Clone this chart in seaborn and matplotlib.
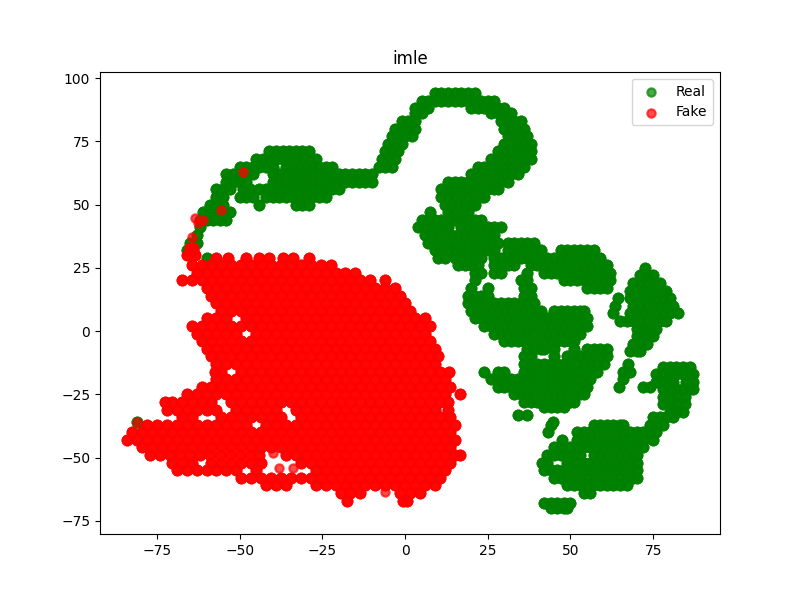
import numpy as np
import pandas as pd
import seaborn as sns
import matplotlib
matplotlib.use("Agg")
import matplotlib.pyplot as plt

# t-SNE points, one list of x values per height (y)
# --- Real ---
r94 = [9, 11, 13, 15, 17, 19, 21]
r91 = [5, 7, 9, 11, 13, 15, 17, 19, 21, 23, 25, 27]
r88 = [3, 5, 7, 20, 22, 24, 26, 28, 30]
r86 = [3, 5, 26, 28, 30, 32]
r83 = [-1, 1, 3, 29, 31, 33, 35]
r80 = [-3, -1, 1, 3, 30, 32, 34, 36]
r77 = [-4, -2, 0, 2, 31, 33, 35, 37]
r74 = [-5, -3, -1, 30, 32, 34, 36, 38]
r71 = [-41, -39, -37, -35, -33, -31, -29, -6, -4, -2, 28, 30, 32, 34, 36, 38]
r68 = [-45, -43, -41, -39, -37, -35, -33, -31, -29, -27, -7, -5, -3, 26, 28, 30, 32, 34, 36, 38]
r65 = [-50, -48, -46, -44, -42, -40, -36, -34, -32, -30, -28, -26, -24, -22, -8, -6, -4, 22, 24, 26, 28, 30, 32, 34, 36]
r62 = [-54, -52, -50, -48, -46, -40, -38, -36, -34, -32, -30, -28, -26, -24, -22, -20, -18, -16, -14, -12, -10,
       20, 22, 24, 26, 28, 30, 32, 34]
r59 = [-54, -52, -50, -48, -40, -38, -36, -34, -32, -30, -28, -26, -24, -22, -20, -18, -16, -14, -12, -10,
       13, 15, 17, 19, 21, 23, 25, 27, 29, 31]
r56 = [-57, -55, -53, -49, -47, -44, -42, -40, -38, -36, -34, -32, -30, -28, -26, -24, -22, -20,
       11, 13, 15, 17, 19, 21, 23, 25, 27, 28]
r53 = [-57, -55, -50, -48, -46, -42, -40, -38, -36, -34, -32, -30, -28, -26, -24, 11, 13, 15, 17, 19, 21, 23, 24]
r50 = [-59, -57, -55, -44, -33, -31, -29, 12, 14, 16, 18, 20, 21]
r47 = [-61, -59, -57, -55, -53, 7.5, 13, 15, 17, 19]
r44 = [-62, -60, -58, -56, -54, 5, 7, 9, 11, 13, 15, 17, 19, 21, 23]
r41 = [-62, 4, 6, 8, 10, 12, 13, 17, 19, 21, 23, 25, 27, 29]
r38 = [-63, 6, 8, 10, 12, 14, 16, 18, 20, 22, 24, 26, 27]
r35 = [-65, -63, 7, 9, 11, 13, 15, 17, 19, 21, 22, 24, 26, 28, 31, 33, 35, 37, 39]
r32 = [-66, -64, 9, 11, 13, 15, 17, 19, 21, 23, 25, 27, 31, 33, 35, 37, 39, 41, 47, 49, 51, 53, 55, 57]
r29 = [-60, 10, 12, 15, 17, 19, 21, 23, 27, 29, 31, 33, 35, 37, 39, 41, 43, 45, 47, 49, 51, 53, 55, 57, 59]
r26 = [16, 18, 20, 22, 27, 29, 31, 33, 38, 40, 42, 44, 46, 48, 50, 52, 54, 56, 58, 60, 61]
r25 = [72.5]
r23 = [21, 23, 27, 29, 37, 42, 44, 46, 48, 50, 52, 54, 56, 58, 60, 62]
r22 = [71, 73, 75]
r20 = [21, 35, 37, 48, 50, 52, 54, 56, 58, 60, 62]
r19 = [69, 71, 73, 75, 77]
r17 = [20, 25, 36, 38, 55, 57, 59, 61]
r16 = [68, 70, 72, 74, 76, 78, 79]
r14 = [19, 21, 23, 25, 36, 38]
r13 = [64.5, 68, 70, 72, 74, 76, 78, 80]
r11 = [19, 21, 23, 25, 27, 29, 31, 33, 35, 37, 39]
r10 = [63.5, 69, 71, 73, 75, 77, 79, 81]
r8 = [20, 22, 24, 26, 28, 30, 32, 34, 36, 38, 40, 41, 45, 47, 49, 51, 53, 54]
r7 = [63, 68, 70, 72, 74, 76, 78, 80, 82.5]
r5 = [21, 23, 25, 27, 29, 31, 33, 35, 37, 39, 41, 43, 45, 47, 49, 51, 53, 55]
r4 = [65, 67, 69, 71, 73, 75, 77, 79]
r2 = [24, 26, 28, 30, 32, 34, 36, 38, 40, 42, 44, 46, 48, 50, 52, 54, 55]
r1 = [70, 72, 74, 76]
rm1 = [27, 29, 31, 33, 35, 37, 39, 41, 43, 45, 47, 49, 51, 53]
rm2 = [70, 72, 74, 75]
rm4 = [30, 32, 34, 36, 38, 40, 42, 44, 46, 48, 50, 51]
rm5 = [69, 71, 73]
rm7 = [37, 39, 41, 42, 45, 51, 55, 57, 59, 61]
rm8 = [68, 70, 71]
rm10 = [36, 38, 45, 49, 51, 53, 55, 57, 59, 61]
rm13 = [36, 38, 40, 42, 44, 46, 48, 50, 52, 54, 56, 58, 60, 67.5]
rm14 = [78, 80, 82, 84, 86]
rm16 = [24, 28, 30, 36, 38, 40, 42, 44, 46, 48, 50, 52, 54, 56, 58, 66, 68]
rm17 = [76, 78, 80, 82, 84, 86, 87]
rm19 = [26, 28, 30, 32, 34, 36, 38, 40, 42, 44, 46, 48, 50, 52, 54, 56, 66]
rm20 = [76, 78, 80, 81, 85, 87]
rm22 = [28, 30, 32, 34, 36, 38, 40, 42, 44, 46, 48, 50, 52, 54, 55, 64.7, 72, 74]
rm23 = [78, 80, 82, 84, 86, 87]
rm25 = [33, 35, 37, 39, 41, 43, 45, 47, 49, 51, 53, 54]
rm26 = [78, 80, 82, 84.5]
rm28 = [36, 38, 40, 42, 44, 46, 48, 50, 51]
rm29 = [78, 80, 82, 84.5]
rm30 = [42, 44, 46, 48]
rm32 = [80, 82, 84]
rm33 = [34, 37]
rm34 = [75, 77, 79, 81]
rm36 = [44.8, -81]
rm37 = [44, 57, 59, 61, 63, 65, 66, 74, 76, 78]
rm40 = [43.2, 52, 54, 56, 58, 60, 62, 64, 66, 68, 70, 72, 74, 76]
rm43 = [47.4, 52, 54, 56, 58, 60, 62, 64, 66, 68, 70, 72, 75]
rm46 = [45, 47, 50, 52, 54, 56, 58, 60, 62, 64, 66, 68, 70, 72]
rm49 = [43, 45, 47, 49, 51, 53, 57, 59, 61, 63, 65, 67, 69, 70]
rm52 = [41.5, 43, 49, 50, 52, 54, 56, 58, 60, 62, 64, 66, 68, 70]
rm55 = [42, 44, 46, 48, 50, 52, 54, 56, 58, 60, 62, 64, 66, 68, 70]
rm58 = [45, 47, 49, 51, 53, 55, 57, 59, 61, 63, 65, 67, 69, 70]
rm61 = [49, 51, 53, 55, 57, 59, 61, 63, 65, 67]
rm64 = [54, 56]
rm68 = [42, 44, 46, 48, 50]
rm70 = [44, 46, 48, 49]

real_y = [94, 91, 88, 86, 83, 80, 77, 74, 71, 68, 65, 62, 59, 56, 53, 50, 47, 44, 41, 38, 35, 32, 29, 26, 25, 23, 22,
          20, 19, 17, 16, 14, 13, 11, 10, 8, 7, 5, 4, 2, 1, -1, -2, -4, -5, -7, -8, -10, -13, -14, -16, -17, -19, -20,
          -22, -23, -25, -26, -28, -29, -30, -32, -33, -34, -36, -37, -40, -43, -46, -49, -52, -55, -58, -61, -64,
          -68, -70]
real_x = [r94, r91, r88, r86, r83, r80, r77, r74, r71, r68, r65, r62, r59, r56, r53, r50, r47, r44, r41, r38, r35, r32,
          r29, r26, r25, r23, r22, r20, r19, r17, r16, r14, r13, r11, r10, r8, r7, r5, r4, r2, r1, rm1, rm2, rm4, rm5,
          rm7, rm8, rm10, rm13, rm14, rm16, rm17, rm19, rm20, rm22, rm23, rm25, rm26, rm28, rm29, rm30, rm32, rm33,
          rm34, rm36, rm37, rm40, rm43, rm46, rm49, rm52, rm55, rm58, rm61, rm64, rm68, rm70]

# --- Fake ---
f33 = [-65, -64]
f30 = [-66, -63.5]
f29 = [-57, -53.5, -48, -44, -41, -37, -34, -29]
f26 = [-64.5, -61.5, -58.5, -55.5, -52.5, -49.5, -46.5, -43.5, -40.5, -37.5, -34.5, -31.5, -28.5, -25.5, -22.5]
f23 = [-63, -60, -57, -54, -51, -48, -45, -42, -39, -36, -33, -30, -27, -24, -21, -18, -15]
f20 = [-67.5, -64.5, -61.5, -58.5, -55.5, -52.5, -49.5, -46.5, -43.5, -40.5, -37.5, -34.5, -31.5, -28.5, -25.5, -22.5,
       -19.5, -16.5, -13.5, -10.5, -6]
f17 = [-60, -57, -54, -51, -48, -45, -42, -39, -36, -33, -30, -27, -24, -21, -18, -15, -12, -9, -6, -3]
f14 = [-58.5, -55.5, -52.5, -49.5, -46.5, -43.5, -40.5, -37.5, -34.5, -31.5, -28.5, -25.5, -22.5, -19.5, -16.5, -13.5,
       -10.5, -7.5, -4.5, -1.5]
f11 = [-57, -54, -51, -48, -45, -42, -39, -36, -33, -30, -27, -24, -21, -18, -15, -12, -9, -6, -3, 0]
f8 = [-55.5, -52.5, -49.5, -46.5, -43.5, -40.5, -37.5, -34.5, -31.5, -28.5, -25.5, -22.5, -19.5, -16.5, -13.5, -10.5,
      -7.5, -4.5, -1.5, 1.5]
f5 = [-60, -57, -54, -48, -45, -42, -39, -36, -33, -30, -27, -24, -21, -18, -15, -12, -9, -6, -3, 0, 3, 6]
f2 = [-64.5, -61.5, -58.5, -55.5, -52.5, -49.5, -46.5, -43.5, -40.5, -37.5, -34.5, -31.5, -28.5, -25.5, -22.5, -19.5,
      -16.5, -13.5, -10.5, -7.5, -4.5, -1.5, 1.5, 4.5, 7.5]
fm1 = [-63, -60, -57, -54, -51, -45, -42, -39, -36, -33, -30, -27, -24, -21, -18, -15, -12, -9, -6, -3, 0, 3, 6]
fm4 = [-61.5, -58.5, -55.5, -52.5, -49.5, -46.5, -43.5, -40.5, -37.5, -34.5, -31.5, -28.5, -25.5, -22.5, -19.5, -16.5,
       -13.5, -10.5, -7.5, -4.5, -1.5, 1.5, 4.5, 7.5]
fm7 = [-60, -57, -54, -51, -48, -45, -42, -39, -36, -33, -30, -27, -24, -21, -18, -15, -12, -9, -6, -3, 0, 3, 6, 9]
fm10 = [-58.5, -55.5, -52.5, -49.5, -46.5, -43.5, -40.5, -37.5, -34.5, -31.5, -28.5, -25.5, -22.5, -19.5, -16.5, -13.5,
        -10.5, -7.5, -4.5, -1.5, 1.5, 4.5, 7.5, 10]
fm13 = [-57, -54, -51, -48, -45, -42, -39, -36, -33, -30, -27, -24, -21, -18, -15, -12, -9, -6, -3, 0, 3, 6, 9]
fm16 = [-57.5, -55.5, -49.5, -46.5, -43.5, -40.5, -37.5, -34.5, -31.5, -28.5, -25.5, -22.5, -19.5, -16.5, -13.5, -10.5,
        -7.5, -4.5, -1.5, 1.5, 4.5, 7.5, 10.5, 13.3]
fm19 = [-57, -54, -51, -48, -45, -42, -39, -36, -33, -30, -27, -24, -21, -18, -15, -12, -9, -6, -3, 0, 3, 6, 9, 12]
fm22 = [-61.5, -58.5, -55.5, -52.5, -49.5, -46.5, -43.5, -40.5, -37.5, -34.5, -31.5, -28.5, -25.5, -22.5, -19.5, -16.5,
        -13.5, -10.5, -7.5, -4.5, -1.5, 1.5, 4.5, 7.5, 10.5, 13.5]
fm25 = [-66, -63, -60, -57, -54, -51, -48, -45, -42, -39, -36, -33, -30, -27, -24, -21, -18, -15, -12, -9, -6, -3, 0,
        3, 6, 9, 12, 16.6]
fm28 = [-72.5, -70.5, -67.5, -64.5, -61.5, -58.5, -52.5, -49.5, -46.5, -43.5, -40.5, -37.5, -34.5, -31.5, -28.5,
        -25.5, -22.5, -19.5, -16.5, -13.5, -10.5, -7.5, -4.5, -1.5, 1.5, 4.5, 7.5, 10.5, 13]
fm31 = [-72, -69, -66, -63, -60, -57, -51, -48, -45, -42, -39, -33, -30, -27, -24, -21, -18, -15, -12, -9, -6, -3, 0,
        3, 6, 9, 13]
fm34 = [-67.5, -64.5, -55.5, -52.5, -49.5, -46.5, -43.5, -40.5, -37.5, -31.5, -28.5, -25.5, -22.5, -19.5, -16.5, -13.5,
        -10.5, -7.5, -4.5, -1.5, 1.5, 4.5, 7.5, 10.5, 13.5]
fm37 = [-78, -75, -72, -69, -66, -63, -60, -57, -54, -51, -48, -42, -39, -36, -33, -30, -27, -24, -21, -18, -15, -12,
        -9, -6, -3, 0, 3, 6, 9, 12, 15]
fm40 = [-82.5, -79.5, -76.5, -73.5, -70.5, -67.5, -64.5, -61.5, -58.5, -55.5, -52.5, -49.5, -46.5, -43.5, -40.5, -37.5,
        -34.5, -31.5, -28.5, -25.5, -22.5, -19.5, -16.5, -13.5, -10.5, -7.5, -4.5, -1.5, 1.5, 4.5, 7.5, 10.5, 13.5]
fm43 = [-84, -81, -78, -75, -72, -69, -66, -63, -60, -57, -54, -51, -48, -45, -42, -39, -36, -33, -30, -27, -24, -21,
        -18, -15, -12, -9, -6, -3, 0, 3, 6, 9, 12, 15]
fm46 = [-79.5, -76.5, -73.5, -70.5, -67.5, -64.5, -61.5, -58.5, -55.5, -52.5, -49.5, -46.5, -43.5, -40.5, -37.5, -34.5,
        -31.5, -28.5, -25.5, -22.5, -19.5, -16.5, -13.5, -10.5, -7.5, -4.5, -1.5, 1.5, 4.5, 7.5, 10.5, 13.5]
fm49 = [-77, -74, -71, -68, -65, -62, -59, -56, -53, -50, -47, -44, -36, -33, -30, -27, -24, -21, -18, -15, -12, -9,
        -6, -3, 0, 3, 6, 9, 12, 15, 16.6]
fm52 = [-70.5, -67.5, -64.5, -58.5, -55.5, -52.5, -49.5, -46.5, -43.5, -31.5, -28.5, -25.5, -22.5, -19.5, -16.5, -13.5,
        -10.5, -7.5, -4.5, -1.5, 1.5, 4.5, 7.5, 10.5, 13.5]
fm55 = [-69, -66, -63, -60, -57, -54, -51, -45, -27, -24, -21, -18, -15, -12, -9, -6, -3, 0, 3, 6, 9, 12]
fm58 = [-49.5, -46.5, -43.5, -40.5, -37.5, -34.5, -31.5, -28.5, -25.5, -22.5, -19.5, -16.5, -13.5, -10.5, -7.5, -4.5,
        -1.5, 1.5, 4.5, 7.5, 10.5]
fm61 = [-42, -39, -36, -27, -24, -21, -18, -15, -12, -9, -6, -3, 0, 3, 6, 9]
fm64 = [-19.5, -16.5, -13.5, -1.5, 1.5, 4.5]
fm67 = [-17.5, -0.6, 0.5]

fake_y = [33, 30, 29, 26, 23, 20, 17, 14, 11, 8, 5, 2, -1, -4, -7, -10, -13, -16, -19, -22, -25, -28, -31, -34, -37,
          -40, -43, -46, -49, -52, -55, -58, -61, -64, -67]
fake_x = [f33, f30, f29, f26, f23, f20, f17, f14, f11, f8, f5, f2, fm1, fm4, fm7, fm10, fm13, fm16, fm19, fm22, fm25,
          fm28, fm31, fm34, fm37, fm40, fm43, fm46, fm49, fm52, fm55, fm58, fm61, fm64, fm67]

# single fake points that show through on their own
lone_x = [-49, -55.6, -63.4, -61, -62.5, -64.3, -81, -40, -38, -34, -6]
lone_y = [63, 47.8, 44.7, 43.9, 42.6, 37, -36, -48, -54, -54, -63.6]


def flatten(rows_y, rows_x, layers=3):
    # each spot stands for a few overlapping points, so the blobs come out solid
    xs = [v for row in rows_x for v in row]
    ys = [y for y, row in zip(rows_y, rows_x) for _ in row]
    return pd.DataFrame({"x": np.tile(xs, layers), "y": np.tile(ys, layers)})


real = flatten(real_y, real_x)
fake = flatten(fake_y, fake_x)
lone = pd.DataFrame({"x": lone_x, "y": lone_y})

fig, ax = plt.subplots(figsize=(8, 6), dpi=100)
style = dict(alpha=0.7, linewidth=1.5, edgecolor="face")
# slightly larger dots for the blobs, they stand in for many more points
sns.scatterplot(data=real, x="x", y="y", color="green", label="Real", s=49, ax=ax, **style)
sns.scatterplot(data=fake, x="x", y="y", color="red", label="Fake", s=49, ax=ax, **style)
sns.scatterplot(data=lone, x="x", y="y", color="red", s=36, ax=ax, **style)

ax.set_xlim(-92.2, 95.2)
ax.set_ylim(-80.2, 102.4)
ax.set_xlabel("")
ax.set_ylabel("")
ax.set_title("imle")
ax.legend(loc="upper right", markerscale=0.857)
fig.savefig("out.png", dpi=100)
